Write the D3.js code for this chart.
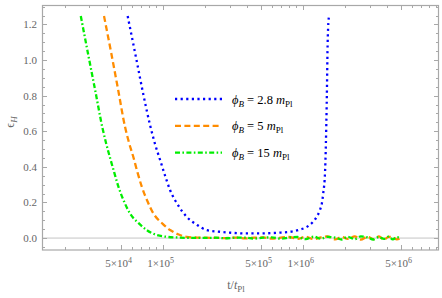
<!DOCTYPE html>
<html>
<head>
<meta charset="utf-8">
<script src="https://cdn.jsdelivr.net/npm/d3@7"></script>
<style>
  body { margin: 0; background: #fff; }
  text { font-family: "Liberation Serif", "DejaVu Serif", serif; }
</style>
</head>
<body>
<svg id="chart" width="442" height="298"></svg>
<script>
var width = 442
var height = 298

// epsilon_H against t/t_Pl, three bounce values
const blueT   = [5.62e4, 6.5e4, 7.3e4, 8.12e4, 8.8e4, 9.57e4, 1.04e5, 1.128e5, 1.3e5, 1.48e5, 1.75e5, 2.06e5, 2.6e5, 3.2e5, 3.9e5, 4.8e5, 6e5, 7e5, 8.1e5, 9.3e5, 1.07e6, 1.18e6, 1.26e6, 1.33e6, 1.37e6, 1.40e6, 1.443e6, 1.483e6, 1.509e6, 1.54e6];
const blueEps = [1.247, 1.0, 0.80, 0.635, 0.53, 0.44, 0.35, 0.27, 0.18, 0.12, 0.075, 0.045, 0.035, 0.029, 0.026, 0.026, 0.028, 0.031, 0.035, 0.045, 0.063, 0.09, 0.12, 0.16, 0.195, 0.25, 0.37, 0.75, 1.12, 1.25];

const orangeT   = [3.81e4, 4.3e4, 4.8e4, 5.38e4, 5.75e4, 6.17e4, 6.6e4, 7.08e4, 7.8e4, 8.57e4, 1.0e5, 1.13e5, 1.3e5, 1.48e5, 1.75e5];
const orangeEps = [1.247, 1.035, 0.835, 0.625, 0.535, 0.455, 0.37, 0.29, 0.205, 0.139, 0.08, 0.045, 0.02, 0.007, 0.003];

const greenT   = [2.6e4, 2.95e4, 3.3e4, 3.71e4, 3.95e4, 4.21e4, 4.5e4, 4.82e4, 5.3e4, 5.83e4, 6.7e4, 7.69e4, 9e4, 1.07e5, 1.3e5, 1.6e5];
const greenEps = [1.247, 1.023, 0.827, 0.62, 0.53, 0.45, 0.37, 0.29, 0.205, 0.139, 0.085, 0.045, 0.018, 0.007, 0.003, 0.001];

// noisy tail near zero, out to 5e6
const tailT      = [2e5, 2.4e5, 2.8e5, 3.3e5, 3.9e5, 4.5e5, 5.2e5, 6e5, 7e5, 8e5, 9.2e5, 1.05e6, 1.2e6, 1.35e6, 1.5e6, 1.7e6, 1.9e6, 2.1e6, 2.35e6, 2.6e6, 2.9e6, 3.2e6, 3.5e6, 3.8e6, 4.1e6, 4.4e6, 4.7e6, 5e6];
const orangeTail = [0.002, 0.001, 0.0, 0.003, -0.002, 0.002, 0.004, -0.003, 0.003, 0.006, -0.004, 0.007, -0.006, 0.004, 0.009, -0.007, 0.006, -0.005, 0.01, -0.008, 0.007, -0.006, 0.009, -0.009, 0.007, 0.005, -0.007, 0.0];
const greenTail  = [0.001, 0.002, -0.001, 0.002, 0.003, -0.003, 0.002, 0.004, -0.003, 0.003, 0.006, -0.006, 0.008, -0.004, 0.007, 0.003, -0.008, 0.007, -0.006, 0.009, 0.004, -0.008, 0.006, -0.004, 0.008, -0.007, 0.005, 0.0];

const legendLabels = ["2.8", "5", "15"];
const xTickLabels = [[5, 4], [1, 5], [5, 5], [1, 6], [5, 6]];
const yTickLabels = ["0.0", "0.2", "0.4", "0.6", "0.8", "1.0", "1.2"];

const svg = d3.select("svg#chart");

const x = d3.scaleLog().domain([1.374e4, 9.4e6]).range([42, 439]);
const y = d3.scaleLinear().domain([-0.067, 1.309]).range([250, 5]);

const frameColor = "#a8a8a8";
const labelColor = "#666";

svg.append("clipPath").attr("id", "clip")
  .append("rect")
    .attr("x", x.range()[0]).attr("y", y.range()[1])
    .attr("width", x.range()[1] - x.range()[0])
    .attr("height", y.range()[0] - y.range()[1]);

// zero axis line
svg.append("line")
    .attr("x1", x.range()[0]).attr("x2", x.range()[1])
    .attr("y1", y(0)).attr("y2", y(0))
    .attr("stroke", "#c4c4c4").attr("stroke-width", 1);

// ticks
const minorX = [];
for (let e = 4; e <= 6; e++) for (let m = 1; m <= 9; m++) {
  const v = m * Math.pow(10, e);
  if (v >= x.domain()[0] && v <= x.domain()[1]) minorX.push(v);
}
const majorX = xTickLabels.map(d => d[0] * Math.pow(10, d[1]));
const minorY = d3.range(-0.05, 1.31, 0.05).map(v => +v.toFixed(2));
const majorY = yTickLabels.map(Number);

const ticks = svg.append("g").attr("stroke", frameColor).attr("stroke-width", 1);
minorX.forEach(v => {
  const len = majorX.includes(v) ? 5 : 3;
  const px = Math.round(x(v)) + 0.5;
  ticks.append("line").attr("x1", px).attr("x2", px).attr("y1", 250).attr("y2", 250 - len);
  ticks.append("line").attr("x1", px).attr("x2", px).attr("y1", 5).attr("y2", 5 + len);
});
minorY.forEach(v => {
  const len = majorY.some(m => Math.abs(m - v) < 1e-6) ? 5 : 3;
  const py = Math.round(y(v)) + 0.5;
  ticks.append("line").attr("x1", 42).attr("x2", 42 + len).attr("y1", py).attr("y2", py);
  ticks.append("line").attr("x1", 439).attr("x2", 439 - len).attr("y1", py).attr("y2", py);
});

// frame
svg.append("rect")
    .attr("x", 42.5).attr("y", 5.5).attr("width", 396).attr("height", 244.5)
    .attr("fill", "none").attr("stroke", frameColor).attr("stroke-width", 1.2);

// tick labels
svg.append("g").selectAll("text")
  .data(yTickLabels)
  .enter().append("text")
    .attr("x", 37).attr("y", d => y(+d) + 4)
    .attr("text-anchor", "end")
    .attr("font-size", 11).attr("fill", labelColor)
    .text(d => d);

const xl = svg.append("g").selectAll("text")
  .data(xTickLabels)
  .enter().append("text")
    .attr("x", d => x(d[0] * Math.pow(10, d[1])) - 2)
    .attr("y", 267)
    .attr("text-anchor", "middle")
    .attr("font-size", 11).attr("fill", labelColor);
xl.append("tspan").text(d => d[0] + "\u00d710");
xl.append("tspan").attr("dy", -4).attr("font-size", 8).text(d => d[1]);

// axis labels
const xlab = svg.append("text")
    .attr("x", 236).attr("y", 289)
    .attr("text-anchor", "middle").attr("font-size", 12).attr("fill", labelColor);
xlab.append("tspan").text("t/");
xlab.append("tspan").attr("font-style", "italic").text("t");
xlab.append("tspan").attr("dy", 3).attr("font-size", 9).text("Pl");

const ylab = svg.append("text")
    .attr("transform", "translate(14,122) rotate(-90)")
    .attr("text-anchor", "middle").attr("font-size", 12).attr("fill", labelColor);
ylab.append("tspan").text("\u03f5");
ylab.append("tspan").attr("dy", 3).attr("font-size", 9).attr("font-style", "italic").text("H");

// curves
const series = [
  { t: blueT, e: blueEps, color: "#0000ff", dash: "2.2,3.4", width: 2.3 },
  { t: orangeT.concat(tailT), e: orangeEps.concat(orangeTail), color: "#ff8c00", dash: "6,3.4", width: 2.3 },
  { t: greenT.concat(tailT), e: greenEps.concat(greenTail), color: "#00ee00", dash: "5,2.4,1.6,2.4", width: 2.3 }
];

const line = d3.line().x(d => x(d[0])).y(d => y(d[1])).curve(d3.curveMonotoneX);

svg.append("g").attr("clip-path", "url(#clip)")
  .selectAll("path")
  .data(series)
  .enter().append("path")
    .attr("d", s => line(s.t.map((t, i) => [t, s.e[i]])))
    .attr("fill", "none")
    .attr("stroke", s => s.color)
    .attr("stroke-width", s => s.width)
    .attr("stroke-dasharray", s => s.dash);

// legend
const legend = svg.append("g").selectAll("g")
  .data(series)
  .enter().append("g")
    .attr("transform", (d, i) => `translate(175,${99 + i * 26.8})`);
legend.append("line")
    .attr("x1", 0).attr("x2", 47).attr("y1", 0).attr("y2", 0)
    .attr("stroke", d => d.color).attr("stroke-width", d => d.width)
    .attr("stroke-dasharray", d => d.dash);
const lt = legend.append("text")
    .attr("x", 57).attr("y", 4.5).attr("font-size", 12.5).attr("fill", "#000");
lt.append("tspan").attr("font-style", "italic").text("\u03d5");
lt.append("tspan").attr("font-style", "italic").attr("font-size", 9).attr("dy", 3).text("B");
lt.append("tspan").attr("dy", -3).text(" = ");
lt.append("tspan").text((d, i) => legendLabels[i] + " ");
lt.append("tspan").attr("font-style", "italic").text("m");
lt.append("tspan").attr("font-size", 9).attr("dy", 3).text("Pl");
</script>
</body>
</html>
